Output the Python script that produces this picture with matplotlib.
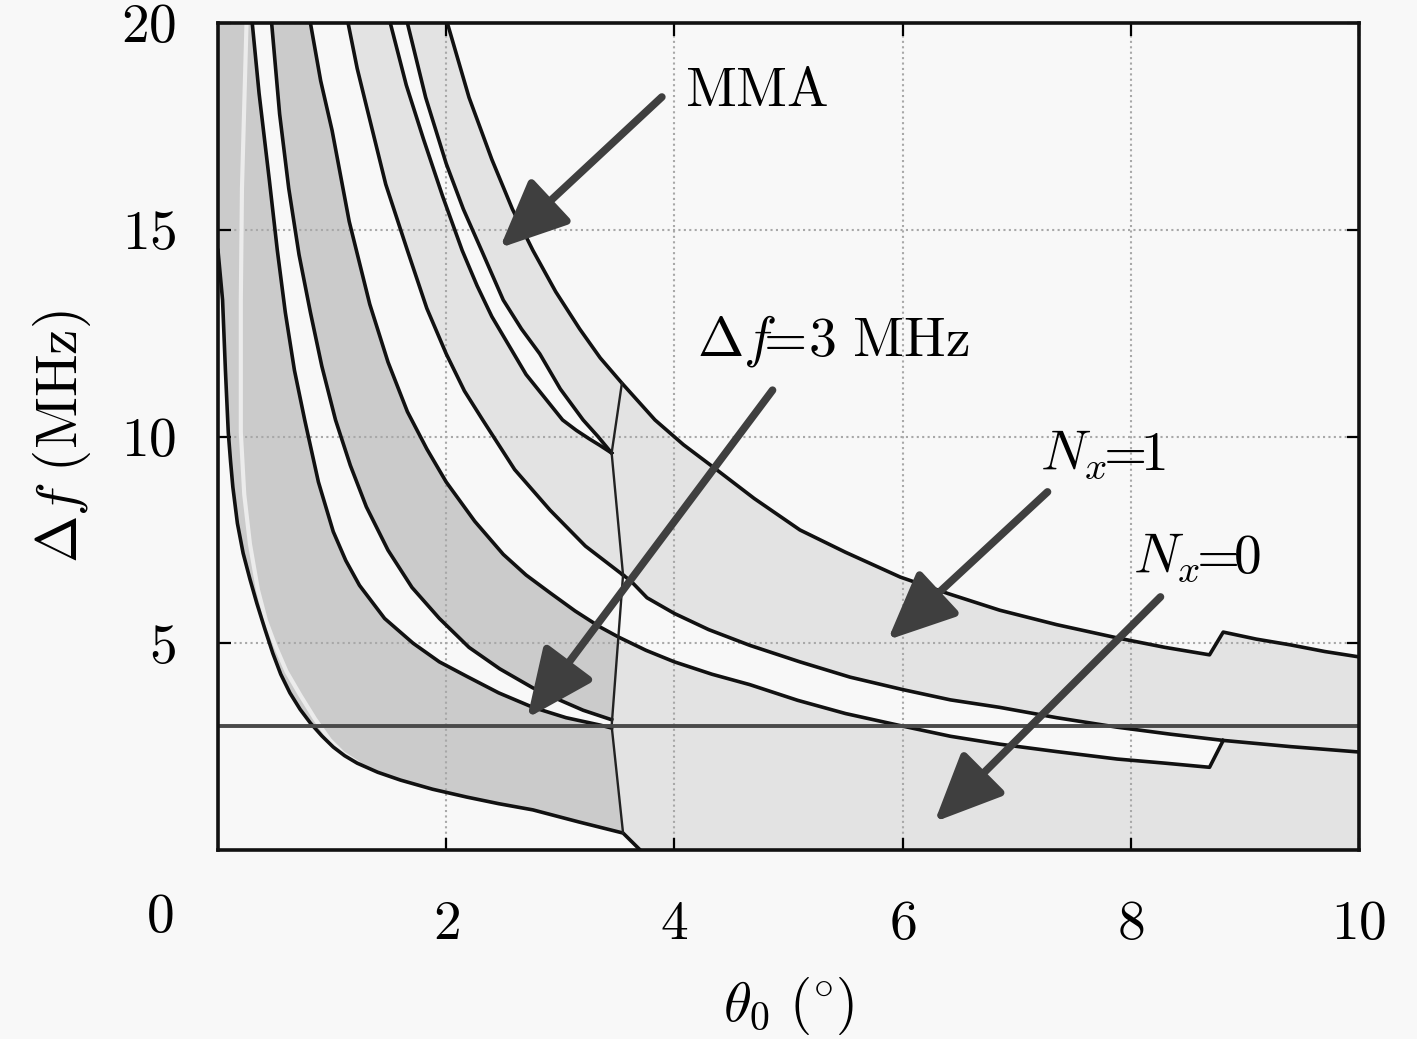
import matplotlib
matplotlib.use("Agg")
import matplotlib.pyplot as plt
from matplotlib.transforms import blended_transform_factory

plt.rcParams['mathtext.fontset'] = 'cm'
plt.rcParams['font.family'] = 'serif'
plt.rcParams['font.serif'] = ['cmr10', 'DejaVu Serif']

# curves (theta0 in deg, delta f in MHz)
C0_x = [0.00, 0.02, 0.04, 0.065, 0.09, 0.11, 0.13, 0.17, 0.22, 0.28, 0.34, 0.41, 0.48, 0.55, 0.63,
        0.72, 0.81, 0.91, 1.01, 1.11, 1.22, 1.40, 1.60, 1.88, 2.18, 2.46, 2.76, 3.16, 3.55, 3.70]
C0_y = [14.5, 13.9, 13.3, 11.6, 10.1, 9.4, 8.78, 7.9, 7.18, 6.55, 5.97, 5.35, 4.76, 4.25, 3.80,
        3.40, 3.07, 2.76, 2.49, 2.28, 2.10, 1.88, 1.69, 1.47, 1.28, 1.12, 0.97, 0.68, 0.41, 0.0]
gap_x = [0.25, 0.23, 0.21, 0.20, 0.20, 0.23, 0.28, 0.35, 0.42, 0.50, 0.60, 0.72, 0.85, 0.98, 1.10, 1.24]
gap_y = [20.0, 18.0, 16.0, 13.3, 10.1, 8.6, 7.4, 6.29, 5.55, 4.96, 4.32, 3.75, 3.17, 2.66, 2.33, 2.08]
A_x = [0.30, 0.36, 0.45, 0.52, 0.59, 0.67, 0.76, 0.88, 1.01, 1.12, 1.24, 1.46, 1.71, 1.94,
       2.18, 2.46, 2.76, 3.05, 3.35, 3.45]
A_y = [20.0, 18.3, 16.2, 14.5, 13.0, 11.6, 10.4, 8.9, 7.7, 7.0, 6.4, 5.6, 5.0, 4.55,
       4.2, 3.8, 3.45, 3.2, 3.02, 2.95]
B_x = [0.47, 0.54, 0.62, 0.71, 0.81, 0.91, 1.03, 1.16, 1.30, 1.49, 1.70, 1.94, 2.20, 2.47,
       2.76, 3.00, 3.20, 3.45]
B_y = [20.0, 17.8, 16.0, 14.4, 13.0, 11.7, 10.4, 9.3, 8.3, 7.25, 6.35, 5.6, 4.9, 4.38,
       3.92, 3.62, 3.38, 3.15]
C_x = [0.81, 0.90, 1.00, 1.15, 1.33, 1.49, 1.66, 1.83, 2.00, 2.25, 2.50, 2.70, 2.91, 3.13, 3.35,
       3.51, 3.75, 4.00, 4.33, 4.66, 5.08, 5.50, 5.96, 6.42, 6.85, 7.35, 7.88, 8.30, 8.69, 8.81]
C_y = [20.0, 18.6, 17.4, 15.2, 13.2, 11.8, 10.6, 9.7, 8.9, 7.95, 7.15, 6.65, 6.22, 5.78, 5.39,
       5.15, 4.83, 4.55, 4.25, 4.0, 3.62, 3.3, 3.02, 2.75, 2.56, 2.38, 2.2, 2.1, 2.0, 2.65]
D_x = [1.14, 1.22, 1.30, 1.47, 1.66, 1.83, 2.00, 2.16, 2.32, 2.60, 2.91, 3.22, 3.55]
D_y = [20.0, 18.9, 18.0, 16.1, 14.5, 13.1, 12.0, 11.1, 10.4, 9.2, 8.22, 7.35, 6.65]
H_x = [3.55, 3.62, 3.76, 4.00, 4.30, 4.66, 5.10, 5.54, 6.00, 6.42, 6.85, 7.35, 7.88, 8.35, 8.81, 9.40, 10.0]
H_y = [6.65, 6.50, 6.10, 5.72, 5.33, 4.95, 4.55, 4.18, 3.88, 3.63, 3.45, 3.2, 2.97, 2.8, 2.65, 2.5, 2.37]
E_x = [1.51, 1.65, 1.80, 1.97, 2.14, 2.27, 2.40, 2.55, 2.70, 2.86, 3.02, 3.14, 3.25, 3.35, 3.45]
E_y = [20.0, 18.5, 17.2, 15.8, 14.5, 13.65, 12.9, 12.2, 11.5, 10.95, 10.4, 10.15, 9.95, 9.78, 9.6]
F_x = [1.66, 1.82, 2.00, 2.15, 2.31, 2.50, 2.66, 2.82, 3.00, 3.20, 3.33, 3.45]
F_y = [20.0, 18.2, 16.6, 15.5, 14.5, 13.3, 12.6, 12.0, 11.15, 10.4, 10.0, 9.6]
G_x = [2.01, 2.20, 2.40, 2.58, 2.76, 2.96, 3.17, 3.35, 3.54, 3.83, 4.08, 4.34, 4.70, 5.10,
       5.50, 5.98, 6.40, 6.85, 7.35, 7.88, 8.30, 8.69, 8.81, 9.10, 9.40, 9.70, 10.0]
G_y = [20.0, 18.2, 16.7, 15.5, 14.5, 13.5, 12.6, 11.9, 11.29, 10.4, 9.8, 9.26, 8.5, 7.74,
       7.2, 6.60, 6.2, 5.80, 5.45, 5.13, 4.9, 4.72, 5.27, 5.1, 4.96, 4.8, 4.67]
V_x = [3.54, 3.45, 3.55, 3.45, 3.55]
V_y = [11.29, 9.6, 6.65, 3.0, 0.41]
df_limit = 3.0

xtick_vals = [2, 4, 6, 8, 10]
ytick_vals = [5, 10, 15, 20]

# arrows: (tail x, tail y, tip x, tip y), labels
arrows = [(3.89, 18.21, 2.47, 14.56), (4.86, 11.12, 2.71, 3.19),
          (7.27, 8.66, 5.87, 5.08), (8.26, 6.12, 6.28, 0.68)]
labels = [r'$\mathrm{MMA}$', r'$\Delta f\!\!=\!3\ \mathrm{MHz}$', r'$N_x\!\!=\!\!1$', r'$N_x\!\!=\!\!0$']
label_pos = [(4.09, 17.99), (4.20, 11.97), (7.20, 9.19), (8.02, 6.72)]

bg = '#f8f8f8'
dark = '#cbcbcb'
light = '#e3e3e3'

fig = plt.figure(figsize=(14.17, 10.39), dpi=100, facecolor=bg)
ax = fig.add_axes([218/1417, 1-850/1039, 1141/1417, 827/1039])
ax.set_facecolor(bg)
ax.set_xlim(0, 10)
ax.set_ylim(0, 20)
x0, x1 = ax.get_xlim()
y0, y1 = ax.get_ylim()

def pts(xs, ys):
    return list(zip(xs, ys))

def fill(poly, c):
    ax.fill([p[0] for p in poly], [p[1] for p in poly], color=c, lw=0, zorder=1)

iG = G_x.index(V_x[0])
iC = C_x.index(3.51)
iH = H_x.index(C_x[-1])

# dark band between C0 and A
fill([(x0, y1)] + pts(A_x, A_y) + [(V_x[3], V_y[3]), (V_x[4], V_y[4])]
     + pts(C0_x[:-1], C0_y[:-1])[::-1], dark)
# dark band between B and C
fill(pts(B_x, B_y) + pts(C_x[:iC + 1], C_y[:iC + 1])[::-1], dark)
# light bands left of V
fill(pts(D_x, D_y) + pts(E_x, E_y)[::-1], light)
fill(pts(F_x, F_y) + pts(G_x[:iG + 1], G_y[:iG + 1])[::-1], light)
# light regions right of V
fill(pts(G_x[iG:], G_y[iG:]) + pts(H_x, H_y)[::-1] + [(V_x[1], V_y[1])], light)
fill(pts(C_x[iC:], C_y[iC:]) + pts(H_x[iH:], H_y[iH:]) + [(x1, y0)]
     + pts(C0_x[-2:], C0_y[-2:])[::-1] + [(V_x[3], V_y[3])], light)

ax.plot(gap_x, gap_y, color='#ececec', lw=3, zorder=2.6, solid_capstyle='butt')

for xs, ys in [(C0_x, C0_y), (A_x, A_y), (B_x, B_y), (C_x, C_y), (D_x, D_y),
               (H_x, H_y), (E_x, E_y), (F_x, F_y), (G_x, G_y)]:
    ax.plot(xs, ys, color='#111111', lw=2.6, zorder=3, solid_joinstyle='round')
ax.plot(V_x, V_y, color='#222222', lw=1.7, zorder=3)
ax.axhline(df_limit, color='#4a4a4a', lw=2.8, zorder=3)

ax.set_axisbelow(False)
ax.grid(True, color='#a8a8a8', lw=1.5, ls=(0, (1, 1.6)))
for s in ax.spines.values():
    s.set_linewidth(2.6)
    s.set_color('#111111')
    s.set_zorder(4)

ax.set_xticks(xtick_vals)
ax.set_xticklabels([r'$%d$' % v for v in xtick_vals])
ax.set_yticks(ytick_vals)
ax.set_yticklabels([r'$%d$' % v for v in ytick_vals])
ax.tick_params(direction='in', length=9, width=1.6, top=True, right=True, labelsize=40)
ax.tick_params(axis='x', pad=36)
ax.tick_params(axis='y', pad=30)
ax.text(-0.51, -0.082, r'$0$', fontsize=40, ha='center', va='center',
        transform=blended_transform_factory(ax.transData, ax.transAxes))

ax.set_xlabel(r'$\theta_0\ (\!^\circ\!)$', fontsize=41, labelpad=18)
ax.set_ylabel(r'$\Delta f\ (\mathrm{MHz})$', fontsize=41, labelpad=20)

for (tx, ty, hx, hy) in arrows:
    ax.annotate('', xy=(hx, hy), xytext=(tx, ty), zorder=5,
                arrowprops=dict(arrowstyle='-|>,head_length=1.9,head_width=0.85',
                                mutation_scale=22, lw=5.5, color='#3f3f3f',
                                shrinkA=0, shrinkB=0))
for s, (lx, ly) in zip(labels, label_pos):
    ax.text(lx, ly, s, fontsize=40, ha='left', va='baseline', zorder=6)

fig.savefig('out.png', dpi=100, facecolor=bg)
